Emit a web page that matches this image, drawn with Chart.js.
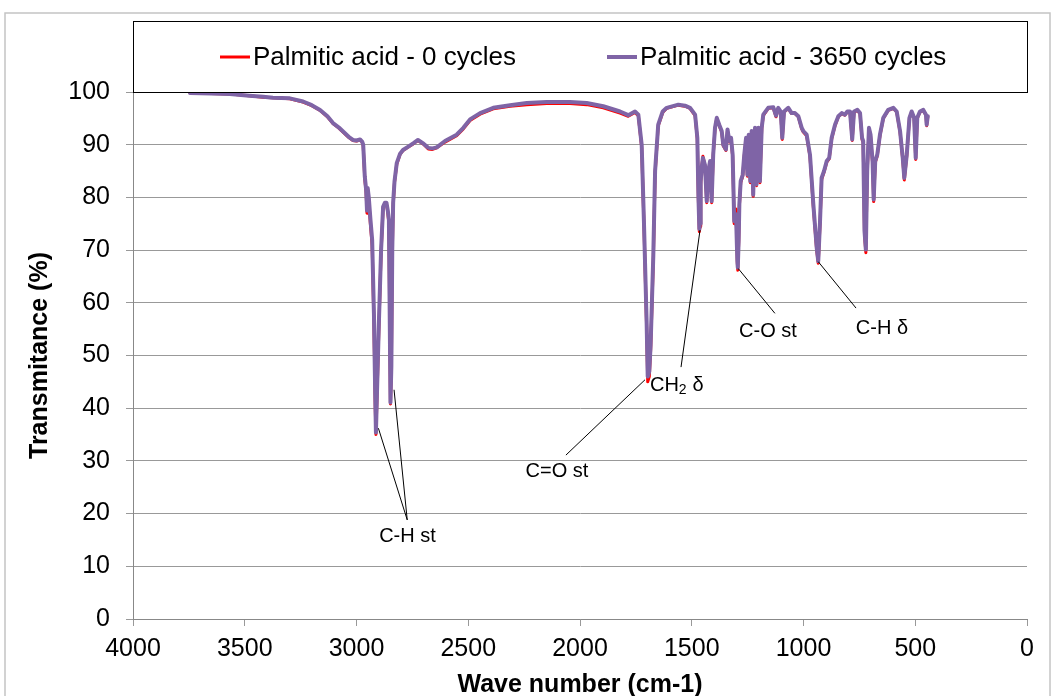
<!DOCTYPE html>
<html>
<head>
<meta charset="utf-8">
<script src="https://cdn.jsdelivr.net/npm/chart.js@4/dist/chart.umd.min.js"></script>
<style>
  html, body { margin: 0; padding: 0; background: #fff; }
  canvas { display: block; }
</style>
</head>
<body>
<canvas id="irChart" width="1053" height="696"></canvas>
<script>
// FTIR spectrum, palmitic acid before / after thermal cycling
const waveNumbers = [
  3745, 3650, 3566, 3480, 3418, 3374, 3298, 3239, 3200, 3163, 3130, 3105, 3080, 3060, 3035, 3016,
  3000, 2984, 2975, 2970, 2963, 2957, 2953, 2950, 2945, 2938, 2930, 2922, 2916, 2913, 2909, 2900,
  2890, 2881, 2873, 2866, 2860, 2855, 2851, 2848, 2844, 2840, 2836, 2830, 2820, 2805, 2792, 2770,
  2745, 2725, 2700, 2679, 2660, 2641, 2604, 2552, 2522, 2492, 2447, 2388, 2313, 2238, 2149, 2045,
  1970, 1896, 1821, 1784, 1754, 1739, 1724, 1714, 1702, 1697, 1690, 1684, 1672, 1664, 1650, 1630,
  1612, 1560, 1530, 1508, 1485, 1475, 1470, 1466, 1463, 1460, 1456, 1450, 1441, 1433, 1426, 1418,
  1411, 1404, 1396, 1388, 1377, 1366, 1359, 1347, 1340, 1332, 1324, 1317, 1310, 1302, 1296, 1294,
  1290, 1287, 1281, 1272, 1265, 1257, 1251, 1245, 1238, 1232, 1225, 1217, 1210, 1202, 1195, 1187,
  1180, 1158, 1135, 1123, 1113, 1102, 1095, 1087, 1068, 1053, 1038, 1023, 1008, 1001, 986, 971,
  956, 941, 934, 926, 919, 908, 896, 885, 874, 859, 844, 829, 815, 804, 792, 782,
  774, 759, 747, 738, 733, 727, 721, 715, 707, 700, 691, 686, 679, 670, 658, 643,
  621, 598, 583, 568, 556, 549, 538, 526, 516, 505, 498, 491, 479, 464, 452, 449,
  444
];

const cycles0 = [
  99.8, 99.7, 99.6, 99.3, 99.0, 98.9, 98.7, 98.1, 97.4, 96.5, 95.3, 94.0, 93.2, 92.4, 91.4, 90.8,
  90.7, 90.9, 90.5, 89.8, 83.5, 81.0, 77.0, 81.5, 79.5, 75.0, 71.0, 56.0, 40.0, 35.0, 41.0, 55.0,
  69.5, 78.0, 78.8, 78.8, 77.2, 75.0, 54.0, 40.8, 47.0, 69.0, 78.5, 82.8, 86.3, 88.2, 88.9, 89.5,
  90.2, 90.8, 90.1, 89.2, 89.1, 89.4, 90.5, 91.7, 93.0, 94.6, 95.8, 96.8, 97.3, 97.6, 97.8, 97.8,
  97.6, 97.0, 96.0, 95.4, 96.1, 95.5, 89.5, 75.0, 55.5, 45.0, 46.0, 51.0, 68.0, 84.5, 93.6, 96.1,
  96.9, 97.5, 97.3, 96.9, 95.5, 91.0, 79.0, 73.5, 74.5, 82.5, 85.5, 87.8, 86.0, 79.0, 84.8, 86.7,
  79.0, 88.0, 93.0, 95.0, 93.6, 92.4, 89.8, 88.9, 92.7, 90.5, 91.1, 87.8, 75.0, 77.8, 67.5, 66.2,
  71.5, 78.3, 82.8, 84.0, 87.9, 91.1, 84.0, 91.7, 82.8, 92.4, 80.2, 93.0, 82.2, 93.0, 82.8, 93.0,
  95.5, 96.9, 97.0, 95.3, 96.9, 96.2, 91.0, 96.2, 96.9, 95.9, 95.9, 95.3, 93.0, 92.4, 91.7, 87.8,
  78.2, 70.0, 67.5, 75.0, 83.4, 84.8, 86.7, 87.3, 91.1, 93.6, 95.3, 95.9, 95.6, 96.2, 96.2, 90.8,
  96.2, 96.5, 95.9, 91.0, 90.4, 73.0, 69.5, 84.6, 93.0, 91.7, 86.6, 79.2, 86.6, 87.9, 91.7, 95.0,
  96.5, 96.9, 96.2, 92.4, 87.2, 83.3, 87.9, 95.0, 96.2, 95.0, 87.2, 95.0, 96.2, 96.5, 95.6, 93.6,
  95.3
];

const cycles3650 = [
  99.8, 99.7, 99.6, 99.3, 99.1, 98.9, 98.8, 98.2, 97.5, 96.6, 95.4, 94.1, 93.3, 92.5, 91.5, 90.9,
  90.8, 91.0, 90.6, 90.0, 84.0, 81.5, 77.5, 81.8, 80.0, 76.0, 72.0, 58.0, 42.0, 35.4, 42.0, 56.0,
  70.0, 78.2, 79.0, 79.0, 77.5, 75.7, 56.0, 41.1, 48.0, 70.0, 79.0, 83.0, 86.5, 88.3, 89.0, 89.6,
  90.3, 90.9, 90.2, 89.4, 89.3, 89.5, 90.7, 91.9, 93.2, 94.8, 96.0, 97.0, 97.5, 97.9, 98.1, 98.1,
  97.9, 97.3, 96.3, 95.6, 96.3, 95.7, 90.0, 75.5, 56.6, 46.0, 47.0, 52.0, 69.0, 85.0, 93.8, 96.3,
  97.0, 97.6, 97.4, 97.0, 95.7, 91.3, 80.0, 74.0, 75.0, 83.0, 85.5, 87.5, 86.2, 79.3, 85.0, 86.9,
  79.3, 88.1, 93.2, 95.1, 93.8, 92.6, 90.0, 89.1, 92.9, 90.7, 91.3, 88.1, 75.5, 76.8, 68.0, 66.7,
  72.0, 78.7, 83.1, 84.3, 88.1, 91.3, 84.3, 91.9, 83.1, 92.6, 80.5, 93.2, 82.5, 93.2, 83.1, 93.2,
  95.7, 97.0, 97.1, 95.5, 97.0, 96.3, 91.3, 96.3, 97.0, 96.0, 96.0, 95.4, 93.2, 92.6, 91.9, 88.1,
  78.7, 70.5, 67.9, 75.5, 83.7, 85.0, 86.9, 87.5, 91.3, 93.8, 95.4, 96.0, 95.7, 96.3, 96.3, 91.0,
  96.3, 96.6, 96.0, 91.3, 90.7, 73.6, 70.1, 85.0, 93.2, 91.9, 86.9, 79.6, 86.9, 88.1, 91.9, 95.1,
  96.6, 97.0, 96.3, 92.6, 87.5, 83.7, 88.1, 95.1, 96.3, 95.1, 87.5, 95.1, 96.3, 96.6, 95.7, 93.8,
  95.4
];

const seriesLabels = ["Palmitic acid - 0 cycles", "Palmitic acid - 3650 cycles"];
const xTickValues = [4000, 3500, 3000, 2500, 2000, 1500, 1000, 500, 0];
const yTickValues = [0, 10, 20, 30, 40, 50, 60, 70, 80, 90, 100];

// band assignments: leader lines from the peak to the label (wave number, %T)
const bandNotes = [
  { text: "C-H st", label: [2772, 15.6], from: [[2902, 36.2], [2832, 43.5]], to: [2773, 18.8] },
  { text: "C=O st", label: [2103, 27.9], from: [[1709, 45.4]], to: [2063, 31.1] },
  { text: "CH2 δ", label: [1687, 44.4], from: [[1463, 73.8]], to: [1548, 47.8] },
  { text: "C-O st", label: [1159, 54.5], from: [[1292, 66.5]], to: [1128, 58.0] },
  { text: "C-H δ", label: [649, 55.2], from: [[934, 67.8]], to: [765, 59.0] },
];

const RED = "#ff0000";
const PURPLE = "#7f64a6";
const FONT = "'Liberation Sans', Arial, Helvetica, sans-serif";

const toPoints = (xs, ys) => xs.map((x, i) => ({ x: x, y: ys[i] }));

const framePlugin = {
  id: "frame",
  beforeDraw(chart) {
    const c = chart.ctx;
    c.save();
    c.fillStyle = "#fff";
    c.fillRect(0, 0, chart.width, chart.height);
    c.strokeStyle = "#c4c4c4";
    c.lineWidth = 1.5;
    c.strokeRect(5, 13, 1045, 720);
    c.restore();
  },
  afterDraw(chart) {
    const c = chart.ctx;
    const a = chart.chartArea;
    const xs = chart.scales.x;
    const ys = chart.scales.y;
    c.save();

    // legend box on top of the plot
    c.strokeStyle = "#000";
    c.lineWidth = 1;
    c.strokeRect(a.left + 0.5, 21.5, a.right - a.left, a.top - 21);
    const items = [
      { x: 220, color: RED, w: 3 },
      { x: 607, color: PURPLE, w: 4 },
    ];
    c.font = "26px " + FONT;
    c.textBaseline = "middle";
    c.fillStyle = "#000";
    items.forEach((it, i) => {
      c.strokeStyle = it.color;
      c.lineWidth = it.w;
      c.beginPath();
      c.moveTo(it.x, 57);
      c.lineTo(it.x + 30, 57);
      c.stroke();
      c.fillText(seriesLabels[i], it.x + 33, 58);
    });

    // band labels
    c.strokeStyle = "#000";
    c.lineWidth = 1;
    bandNotes.forEach((n) => {
      const tx = xs.getPixelForValue(n.to[0]);
      const ty = ys.getPixelForValue(n.to[1]);
      n.from.forEach((p) => {
        c.beginPath();
        c.moveTo(xs.getPixelForValue(p[0]), ys.getPixelForValue(p[1]));
        c.lineTo(tx, ty);
        c.stroke();
      });
      const lx = xs.getPixelForValue(n.label[0]);
      const ly = ys.getPixelForValue(n.label[1]);
      c.font = "20px " + FONT;
      c.textBaseline = "middle";
      if (n.text.startsWith("CH2")) {
        c.textAlign = "left";
        c.fillText("CH", lx, ly);
        let w = c.measureText("CH").width;
        c.font = "14px " + FONT;
        c.fillText("2", lx + w, ly + 5);
        w += c.measureText("2 ").width + 2;
        c.font = "20px " + FONT;
        c.fillText("δ", lx + w, ly);
      } else {
        c.textAlign = "center";
        c.fillText(n.text, lx, ly);
      }
    });
    c.restore();
  },
};

const ctx = document.getElementById("irChart").getContext("2d");
const chart = new Chart(ctx, {
  type: "scatter",
  data: {
    datasets: [
      {
        label: seriesLabels[0],
        data: toPoints(waveNumbers, cycles0),
        showLine: true,
        borderColor: RED,
        backgroundColor: RED,
        borderWidth: 3,
        pointRadius: 0,
        borderJoinStyle: "round",
        borderCapStyle: "round",
        order: 1,
      },
      {
        label: seriesLabels[1],
        data: toPoints(waveNumbers, cycles3650),
        showLine: true,
        borderColor: PURPLE,
        backgroundColor: PURPLE,
        borderWidth: 4,
        pointRadius: 0,
        borderJoinStyle: "round",
        borderCapStyle: "round",
        order: 0,
      },
    ],
  },
  options: {
    responsive: false,
    animation: false,
    layout: { padding: { top: 92, left: 24, right: 26, bottom: 0 } },
    plugins: {
      legend: { display: false },
      tooltip: { enabled: false },
    },
    scales: {
      x: {
        type: "linear",
        reverse: true,
        min: 0,
        max: 4000,
        afterBuildTicks: (s) => { s.ticks = xTickValues.map((v) => ({ value: v })); },
        afterFit: (s) => { s.height = 77; },
        ticks: {
          color: "#000",
          font: { family: FONT, size: 25 },
          padding: 8,
          maxRotation: 0,
          autoSkip: false,
          callback: (v) => String(v),
        },
        grid: { drawOnChartArea: false, tickLength: 7, color: "#999" },
        border: { color: "#888" },
        title: {
          display: true,
          text: "Wave number (cm-1)",
          color: "#000",
          font: { family: FONT, size: 25, weight: "bold", lineHeight: 0.85 },
          padding: 0,
        },
      },
      y: {
        min: 0,
        max: 100,
        afterBuildTicks: (s) => { s.ticks = yTickValues.map((v) => ({ value: v })); },
        afterFit: (s) => { s.width = 109; },
        ticks: {
          color: "#000",
          font: { family: FONT, size: 25 },
          padding: 16,
          autoSkip: false,
          callback: (v) => String(v),
        },
        grid: { color: "#999", tickLength: 7 },
        border: { color: "#888" },
        title: {
          display: true,
          text: "Transmitance (%)",
          color: "#000",
          font: { family: FONT, size: 25, weight: "bold", lineHeight: 1 },
          padding: { top: 4, bottom: 0 },
        },
      },
    },
  },
  plugins: [framePlugin],
});
</script>
</body>
</html>
